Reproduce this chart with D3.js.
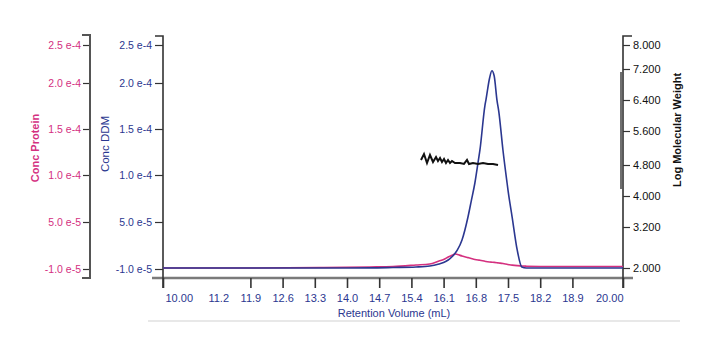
<!DOCTYPE html>
<html>
<head>
<meta charset="utf-8">
<script src="https://cdn.jsdelivr.net/npm/d3@7"></script>
<style>
  body { margin: 0; background: #fff; }
  text { font-family: "Liberation Sans", Arial, sans-serif; }
</style>
</head>
<body>
<script>
var w = 714;
var h = 352;

// retention volume (mL) for the concentration traces
var volume = [10.0, 12.0, 13.5, 14.5, 15.0, 15.5, 15.8, 16.0, 16.1, 16.2, 16.3, 16.35, 16.4, 16.5, 16.63, 16.7,
              16.78, 16.85, 16.89, 17.0, 17.02, 17.1, 17.15, 17.2, 17.26, 17.3, 17.39, 17.48, 17.5, 17.59, 17.7,
              17.8, 17.9, 18.5, 20.0];
// Conc DDM (blue), units of 1e-5
var ddm = [-0.87, -0.87, -0.87, -0.86, -0.81, -0.74, -0.62, -0.36, -0.17, 0.15, 0.66, 1.0, 1.43, 2.7, 5.53, 7.2,
           9.15, 11.4, 12.72, 17.6, 18.15, 20.66, 21.62, 20.92, 18.15, 16.9, 12.72, 9.15, 8.4, 5.53, 1.43,
           -0.74, -0.87, -0.87, -0.87];
// Conc Protein (pink), units of 1e-5
var protein = [-0.87, -0.87, -0.81, -0.74, -0.68, -0.49, -0.36, 0.02, 0.2, 0.53, 0.8, 0.91, 0.85, 0.66, 0.45, 0.34,
               0.22, 0.15, 0.12, -0.02, -0.04, -0.1, -0.13, -0.16, -0.2, -0.23, -0.3, -0.4, -0.43, -0.5, -0.57,
               -0.62, -0.64, -0.68, -0.68];

// log molecular weight trace (black)
var mwVolume = [15.609, 15.674, 15.739, 15.804, 15.870, 15.935, 15.978, 16.022, 16.065, 16.109, 16.152, 16.196,
                16.239, 16.283, 16.348, 16.457, 16.543, 16.609, 16.652, 16.739, 16.848, 16.957, 17.065, 17.174, 17.283];
var logMW = [4.918, 5.059, 4.847, 5.035, 4.871, 4.988, 4.894, 4.965, 4.871, 4.941, 4.847, 4.918,
             4.847, 4.894, 4.847, 4.847, 4.824, 4.918, 4.824, 4.847, 4.824, 4.847, 4.824, 4.824, 4.80];

var xTicks = [10.0, 11.2, 11.9, 12.6, 13.3, 14.0, 14.7, 15.4, 16.1, 16.8, 17.5, 18.2, 18.9, 20.0];
var xTickLabels = ["10.00", "11.2", "11.9", "12.6", "13.3", "14.0", "14.7", "15.4", "16.1", "16.8", "17.5", "18.2", "18.9", "20.00"];
var concTicks = [-1e-5, 5e-5, 1e-4, 1.5e-4, 2e-4, 2.5e-4];
var concTickLabels = ["-1.0 e-5", "5.0 e-5", "1.0 e-4", "1.5 e-4", "2.0 e-4", "2.5 e-4"];
var mwTicks = [2.0, 3.2, 4.0, 4.8, 5.6, 6.4, 7.2, 8.0];
var mwTickLabels = ["2.000", "3.200", "4.000", "4.800", "5.600", "6.400", "7.200", "8.000"];

var pink = "#d4307f";
var navy = "#2b3790";

var svg = d3.select("body")
        .append("svg")
        .attr("width", w)
        .attr("height", h);

var xScale = d3.scaleLinear().domain([10, 20]).range([163, 623]);
// tick spacing on the original is uneven, so map each tick to its own position
var yConc = d3.scaleLinear().domain(concTicks).range([269, 222, 175, 129, 83, 45]);
var yMW = d3.scaleLinear().domain(mwTicks).range([268, 227, 196, 165, 131, 100, 69, 45]);

// faint rule under the chart
svg.append("line")
    .attr("x1", 148).attr("x2", 680).attr("y1", 321).attr("y2", 321)
    .attr("stroke", "#e8e8e8").attr("stroke-width", 2);

// x axis base line
svg.append("line")
    .attr("x1", 152).attr("x2", 633).attr("y1", 278).attr("y2", 278)
    .attr("stroke", "#7a7a7a").attr("stroke-width", 2.5);

function styleAxis(g, color, size) {
    g.select(".domain").remove();
    g.selectAll(".tick line").attr("stroke", "#333").attr("stroke-width", 1.2);
    g.selectAll(".tick text")
        .attr("fill", color)
        .style("font-size", size + "px")
        .style("font-family", "'Liberation Sans', Arial, sans-serif");
}

// pink (protein) axis
var leftAxis = svg.append("g")
    .attr("transform", "translate(90,0)")
    .call(d3.axisLeft(yConc).tickValues(concTicks)
        .tickFormat(function(d, i) { return concTickLabels[i]; })
        .tickSize(7).tickPadding(2));
styleAxis(leftAxis, pink, 10.5);
svg.append("path")
    .attr("d", "M82,35H90V278H82")
    .attr("fill", "none").attr("stroke", "#555").attr("stroke-width", 2);

// blue (DDM) axis
var midAxis = svg.append("g")
    .attr("transform", "translate(163,0)")
    .call(d3.axisLeft(yConc).tickValues(concTicks)
        .tickFormat(function(d, i) { return concTickLabels[i]; })
        .tickSize(8).tickPadding(3));
styleAxis(midAxis, navy, 10.5);
svg.append("path")
    .attr("d", "M155,36H163V288")
    .attr("fill", "none").attr("stroke", "#333").attr("stroke-width", 1.6);

// molecular weight axis
var rightAxis = svg.append("g")
    .attr("transform", "translate(623,0)")
    .call(d3.axisRight(yMW).tickValues(mwTicks)
        .tickFormat(function(d, i) { return mwTickLabels[i]; })
        .tickSize(7).tickPadding(3));
styleAxis(rightAxis, "#111", 11);
svg.append("path")
    .attr("d", "M632,36H623V288")
    .attr("fill", "none").attr("stroke", "#333").attr("stroke-width", 1.6);
svg.append("line")
    .attr("x1", 621).attr("x2", 621).attr("y1", 72).attr("y2", 189)
    .attr("stroke", "#333").attr("stroke-width", 1.4);

// x axis ticks and labels
var xAxis = svg.append("g")
    .attr("transform", "translate(0,278)")
    .call(d3.axisBottom(xScale).tickValues(xTicks)
        .tickFormat(function(d, i) { return xTickLabels[i]; })
        .tickSize(10).tickPadding(6));
styleAxis(xAxis, navy, 11);
xAxis.selectAll(".tick line").attr("stroke-width", 1.6);
xAxis.selectAll(".tick").filter(function(d) { return d === 11.2; })
    .select("line").attr("stroke-opacity", 0);
xAxis.selectAll(".tick text")
    .attr("text-anchor", function(d, i) {
        return i === 0 ? "start" : (i === xTicks.length - 1 ? "end" : "middle");
    })
    .attr("dx", function(d, i) {
        return i === 0 ? 2 : 0;
    });

// axis titles
svg.append("text")
    .attr("x", 394).attr("y", 317)
    .attr("text-anchor", "middle")
    .attr("fill", navy)
    .style("font-size", "11px")
    .text("Retention Volume (mL)");

svg.append("text")
    .attr("transform", "translate(39,148) rotate(-90)")
    .attr("text-anchor", "middle")
    .attr("fill", pink)
    .style("font-size", "11px")
    .style("font-weight", "bold")
    .text("Conc Protein");

svg.append("text")
    .attr("transform", "translate(109,144) rotate(-90)")
    .attr("text-anchor", "middle")
    .attr("fill", navy)
    .style("font-size", "11.5px")
    .text("Conc DDM");

svg.append("text")
    .attr("transform", "translate(681,130) rotate(-90)")
    .attr("text-anchor", "middle")
    .attr("fill", "#111")
    .style("font-size", "11px")
    .style("font-weight", "bold")
    .text("Log Molecular Weight");

// traces
var concLine = function(values) {
    return d3.line()
        .x(function(d, i) { return xScale(volume[i]); })
        .y(function(d) { return yConc(d * 1e-5); })
        .curve(d3.curveMonotoneX)(values);
};

svg.append("path")
    .attr("d", concLine(protein))
    .attr("fill", "none")
    .attr("stroke", pink)
    .attr("stroke-width", 1.6);

svg.append("path")
    .attr("d", concLine(ddm))
    .attr("fill", "none")
    .attr("stroke", navy)
    .attr("stroke-width", 1.6);

svg.append("path")
    .attr("d", d3.line()
        .x(function(d, i) { return xScale(mwVolume[i]); })
        .y(function(d) { return yMW(d); })(logMW))
    .attr("fill", "none")
    .attr("stroke", "#111")
    .attr("stroke-width", 2);
</script>
</body>
</html>
